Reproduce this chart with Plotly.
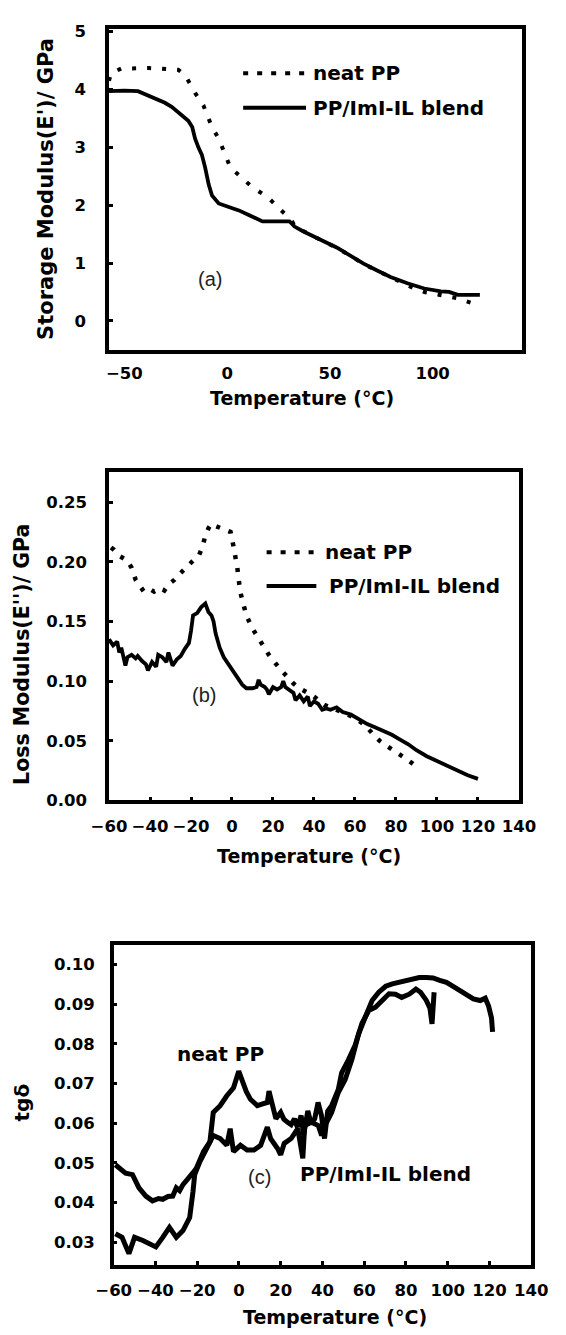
import plotly.graph_objects as go

# ---------------- data ----------------
# (a) storage modulus E' (GPa)
neat_a_T = [-57.5, -56.6, -51.6, -45, -38, -32, -27, -23.8, -20.5, -18.9, -15.6, -11.5, -7.4, -4.1, 1.6, 12.3,
            19.7, 25.4, 31.1, 33, 37, 42, 47, 53, 60, 66, 73, 80, 87, 91, 96, 102.5, 107, 112.3, 118.9]
neat_a_E = [4.15, 4.28, 4.36, 4.37, 4.37, 4.36, 4.35, 4.34, 4.25, 4.14, 3.94, 3.72, 3.35, 3.15, 2.65, 2.31,
            2.14, 1.94, 1.75, 1.63, 1.55, 1.46, 1.38, 1.27, 1.13, 0.99, 0.87, 0.75, 0.63, 0.56, 0.5, 0.45, 0.43, 0.39, 0.31]
blend_a_T = [-57.5, -50, -43.4, -38.5, -34, -30.3, -27, -23.8, -21, -18.9, -17, -15.6, -14, -12.3, -10.7, -9, -7.4,
             -5.5, -4.1, 0.8, 5.7, 10, 13.9, 17.2, 22, 26, 30.3, 31.5, 32.8, 36.9, 41.8, 46.7, 53.3, 59.8, 66.4, 73,
             79.5, 87.7, 95.9, 104, 108, 112.3, 118, 123]
blend_a_E = [3.97, 3.98, 3.97, 3.9, 3.84, 3.77, 3.7, 3.6, 3.52, 3.46, 3.35, 3.15, 3.0, 2.87, 2.65, 2.36, 2.17,
             2.08, 2.03, 1.97, 1.91, 1.84, 1.77, 1.72, 1.72, 1.72, 1.72, 1.68, 1.63, 1.55, 1.46, 1.38, 1.27, 1.13, 0.99, 0.87,
             0.76, 0.65, 0.56, 0.51, 0.5, 0.45, 0.45, 0.45]

# (b) loss modulus E'' (GPa)
neat_b_T = [-59, -57.5, -55, -51, -49, -47, -45, -43, -40, -38, -35, -33, -31, -28, -26, -23.5, -21, -18.5, -16,
            -14.5, -13, -11.5, -10, -8, -5, -3, -0.7, 0.5, 2.6, 4, 7, 10, 13, 18, 23, 26.5, 30, 33, 36, 40, 45, 50,
            55, 60, 65, 69, 72, 76, 80, 84, 88, 91]
neat_b_v = [0.212, 0.210, 0.205, 0.201, 0.195, 0.185, 0.180, 0.175, 0.177, 0.175, 0.178, 0.176, 0.181, 0.185,
            0.189, 0.193, 0.197, 0.201, 0.206, 0.212, 0.222, 0.228, 0.232, 0.230, 0.228, 0.226, 0.225, 0.215, 0.195,
            0.175, 0.155, 0.144, 0.136, 0.122, 0.111, 0.104, 0.098, 0.094, 0.091, 0.087, 0.080, 0.077, 0.073, 0.069,
            0.063, 0.055, 0.050, 0.045, 0.041, 0.036, 0.031, 0.027]
blend_b_T = [-60, -58, -56, -55, -54, -52, -51, -49, -47, -46, -44, -42, -41, -39, -37, -36, -34, -32, -31, -29,
             -27, -25, -23, -21, -20, -19, -17, -15, -13, -11.5, -10, -9, -8, -6, -4, -2, 0, 2, 4, 5, 7, 10, 12, 13,
             14, 16, 17, 18, 20, 22, 24, 25, 26, 28, 30, 31, 33, 35, 37, 38, 40, 42, 44, 46, 48, 51, 54, 58, 62, 66,
             70, 74, 78, 82, 86, 90, 95, 100, 105, 110, 115, 120]
blend_b_v = [0.135, 0.130, 0.133, 0.124, 0.128, 0.113, 0.120, 0.122, 0.119, 0.121, 0.117, 0.114, 0.109, 0.116,
             0.112, 0.122, 0.120, 0.116, 0.124, 0.113, 0.118, 0.121, 0.127, 0.132, 0.142, 0.155, 0.157, 0.162, 0.165,
             0.158, 0.155, 0.150, 0.140, 0.128, 0.120, 0.115, 0.109, 0.104, 0.100, 0.097, 0.094, 0.094, 0.095, 0.101,
             0.097, 0.095, 0.093, 0.089, 0.095, 0.093, 0.095, 0.100, 0.095, 0.092, 0.090, 0.084, 0.088, 0.083, 0.087,
             0.079, 0.083, 0.081, 0.076, 0.077, 0.076, 0.078, 0.074, 0.072, 0.068, 0.064, 0.061, 0.058, 0.055, 0.051,
             0.047, 0.042, 0.037, 0.033, 0.029, 0.025, 0.021, 0.018]

# (c) tan delta
neat_c_T = [-59.2, -56.5, -54.3, -51, -49.5, -47.9, -44.6, -41.4, -38.5, -36.5, -34, -31.7, -30, -28.4, -26.8,
            -23.6, -22, -20.4, -18.7, -17, -15.5, -13.9, -12.3, -11, -9, -5.8, -2.6, -0.1, 1.5, 3.5, 5.5, 8.8, 11,
            13.6, 14.4, 16, 17.7, 20, 21.5, 23.3, 25, 26.6, 28, 29.8, 31, 33, 34.5, 36.3, 37.9, 39.5, 41, 42.5, 44.4,
            47.6, 49.2, 52.5, 55.7, 58.9, 62.2, 65.4, 68.6, 71.9, 75, 78, 81.6, 84.8, 87, 89.7, 91.5, 92.5, 93.5]
neat_c_v = [0.0495, 0.0485, 0.0474, 0.047, 0.0455, 0.0437, 0.0416, 0.0404, 0.041, 0.0408, 0.0415, 0.0416, 0.0437,
            0.043, 0.0445, 0.0462, 0.0475, 0.0486, 0.051, 0.0528, 0.054, 0.0553, 0.0627, 0.0635, 0.0644, 0.0669,
            0.0689, 0.0731, 0.0706, 0.068, 0.066, 0.0644, 0.0648, 0.0652, 0.0681, 0.0652, 0.0611, 0.0627, 0.061,
            0.0602, 0.0596, 0.0611, 0.059, 0.0619, 0.057, 0.0631, 0.06, 0.0611, 0.0652, 0.062, 0.0561, 0.063, 0.0644,
            0.0685, 0.0727, 0.076, 0.0797, 0.0851, 0.0884, 0.0892, 0.0909, 0.0926, 0.0925, 0.0917, 0.0925, 0.0938,
            0.093, 0.091, 0.089, 0.085, 0.093]
blend_c_T = [-59.2, -56, -52.7, -50, -46, -42.5, -39.8, -36.5, -33.3, -30, -26.8, -23.6, -22.5, -22, -21.2, -18.7,
             -15.5, -12.3, -9, -5.8, -4.2, -2.6, 0.7, 3.9, 7.2, 10.4, 13.6, 15.2, 18.5, 20, 21.7, 25, 28.2, 30.6, 31.5,
             34.7, 38, 39.6, 41.2, 44.4, 47.6, 50.9, 54.1, 57.4, 60.6, 63.8, 67, 70.3, 73.5, 76.7, 80, 83.2, 86.4,
             89.7, 93, 96.2, 99.4, 102.6, 105.9, 109.1, 112.3, 115.6, 118, 119.6, 121, 121.5]
blend_c_v = [0.0321, 0.0312, 0.0271, 0.0312, 0.0304, 0.0295, 0.0288, 0.0312, 0.0337, 0.0312, 0.0329, 0.0362, 0.040,
             0.0428, 0.047, 0.0503, 0.0536, 0.0569, 0.0561, 0.0544, 0.0586, 0.0528, 0.0544, 0.0532, 0.0532, 0.0544,
             0.059, 0.0561, 0.0536, 0.052, 0.0549, 0.0561, 0.0586, 0.0511, 0.0594, 0.0602, 0.0594, 0.0569, 0.0594,
             0.0627, 0.0677, 0.071, 0.076, 0.0826, 0.0868, 0.0909, 0.093, 0.0945, 0.0951, 0.0955, 0.096, 0.0963,
             0.0967, 0.0967, 0.0966, 0.096, 0.0955, 0.0945, 0.0935, 0.0925, 0.0913, 0.0909, 0.0915, 0.0895, 0.0865,
             0.083]

# tick labels
a_xticks = [-50, 0, 50, 100]
a_yticks = [0, 1, 2, 3, 4, 5]
bc_xticks = [-60, -40, -20, 0, 20, 40, 60, 80, 100, 120, 140]
b_yticks = [0.00, 0.05, 0.10, 0.15, 0.20, 0.25]
c_yticks = [0.03, 0.04, 0.05, 0.06, 0.07, 0.08, 0.09, 0.10]

series_names = ["neat PP", "PP/ImI-IL blend"]

# ---------------- layout helpers ----------------
W, H = 566, 1335
def px(x):
    return x / W
def py(y):
    return 1 - y / H

BOLD = "DejaVu Sans"
tickfont = dict(family=BOLD, size=16.5, color="black", weight="bold")

def axis_common():
    return dict(showline=True, linecolor="black", linewidth=3.5, mirror=True,
                showgrid=False, zeroline=False, tickfont=tickfont,
                ticks="inside", ticklen=4, tickwidth=3, tickcolor="black")

fig = go.Figure()

# panel (a)
fig.add_trace(go.Scatter(x=neat_a_T, y=neat_a_E, mode="lines", name=series_names[0],
                         line=dict(color="black", width=4, dash="4px,11px"), xaxis="x", yaxis="y"))
fig.add_trace(go.Scatter(x=blend_a_T, y=blend_a_E, mode="lines", name=series_names[1],
                         line=dict(color="black", width=3.8), xaxis="x", yaxis="y"))
# panel (b)
fig.add_trace(go.Scatter(x=neat_b_T, y=neat_b_v, mode="lines", name=series_names[0],
                         line=dict(color="black", width=4.5, dash="4px,9px"), xaxis="x2", yaxis="y2"))
fig.add_trace(go.Scatter(x=blend_b_T, y=blend_b_v, mode="lines", name=series_names[1],
                         line=dict(color="black", width=3.8), xaxis="x2", yaxis="y2"))
# panel (c)
fig.add_trace(go.Scatter(x=neat_c_T, y=neat_c_v, mode="lines", name=series_names[0],
                         line=dict(color="black", width=5), xaxis="x3", yaxis="y3"))
fig.add_trace(go.Scatter(x=blend_c_T, y=blend_c_v, mode="lines", name=series_names[1],
                         line=dict(color="black", width=5), xaxis="x3", yaxis="y3"))

xa = axis_common(); xa.update(domain=[px(97), px(537)], range=[-57.5, 143.4], anchor="y",
                              tickvals=a_xticks, ticks="", ticklabelstandoff=6)
ya = axis_common(); ya.update(domain=[py(348), py(23)], range=[-0.5, 5.05], anchor="x",
                              tickvals=a_yticks, ticklabelstandoff=16)
xb = axis_common(); xb.update(domain=[px(97), px(534)], range=[-60, 140], anchor="y2",
                              tickvals=bc_xticks, ticklabelstandoff=8)
yb = axis_common(); yb.update(domain=[py(804), py(472)], range=[0, 0.275], anchor="x2",
                              tickvals=b_yticks, tickformat=".2f", ticklabelstandoff=15)
xc = axis_common(); xc.update(domain=[px(102), px(547)], range=[-60, 140], anchor="y3",
                              tickvals=bc_xticks, ticklabelstandoff=8)
yc = axis_common(); yc.update(domain=[py(1274), py(950)], range=[0.0243, 0.105], anchor="x3",
                              tickvals=c_yticks, tickformat=".2f", ticklabelstandoff=12)

fig.update_layout(
    width=W, height=H, margin=dict(l=0, r=0, t=0, b=0),
    paper_bgcolor="white", plot_bgcolor="white", showlegend=False,
    xaxis=xa, yaxis=ya, xaxis2=xb, yaxis2=yb, xaxis3=xc, yaxis3=yc,
)

def ann(text, x, y, size=20, angle=0, bold=True, family=BOLD, xanchor="center", color="black"):
    fig.add_annotation(text=text, x=px(x), y=py(y), xref="paper", yref="paper",
                       showarrow=False, textangle=angle, xanchor=xanchor, yanchor="middle",
                       font=dict(family=family, size=size, color=color,
                                 weight="bold" if bold else "normal"))

def sample(x0, x1, y, dash):
    fig.add_shape(type="line", xref="paper", yref="paper", x0=px(x0), x1=px(x1), y0=py(y), y1=py(y),
                  line=dict(color="black", width=4, dash=dash))

# axis titles
ann("Storage Modulus(E')/ GPa", 30, 185, size=21, angle=-90)
ann("Loss Modulus(E'')/ GPa", 4, 656, size=20.5, angle=-90)
ann("tgδ", 4, 1110, size=20, angle=-90)
ann("Temperature (°C)", 303, 397, size=19)
ann("Temperature (°C)", 310, 860, size=19)
ann("Temperature (°C)", 338, 1327, size=19)

# panel letters
ann("(a)", 205, 276, size=20, bold=False, family="Liberation Sans", color="#222")
ann("(b)", 198, 697, size=20, bold=False, family="Liberation Sans", color="#222")
ann("(c)", 257, 1185, size=20, bold=False, family="Liberation Sans", color="#222")

# legends (a)
sample(240, 308, 68, "5px,9px")
ann(series_names[0], 312, 68, xanchor="left")
sample(240, 307, 103, "solid")
ann(series_names[1], 312, 103, xanchor="left")
# legends (b)
sample(265, 320, 553, "5px,9px")
ann(series_names[0], 325, 553, xanchor="left")
sample(265, 318, 587, "solid")
ann(series_names[1], 329, 587, xanchor="left")
# labels (c)
ann(series_names[0], 167, 1061, xanchor="left")
ann(series_names[1], 298, 1182, xanchor="left")

fig.write_html("out.html")
